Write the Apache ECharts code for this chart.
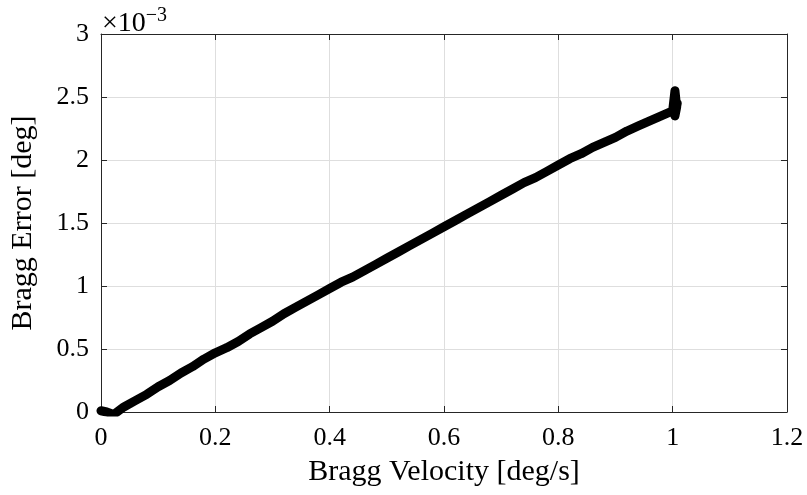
<!DOCTYPE html>
<html>
<head>
<meta charset="utf-8">
<script src="https://cdn.jsdelivr.net/npm/echarts@6/dist/echarts.min.js"></script>
<style>
  html, body { margin: 0; padding: 0; background: #fff; }
  #container { width: 807px; height: 495px; }
</style>
</head>
<body>
<div id="container"></div>
<script>
// velocity [deg/s] and error [x1e-3 deg]
var velocity = [0, 0.01, 0.022, 0.04, 0.06, 0.08, 0.1, 0.12, 0.14, 0.16, 0.18, 0.2,
  0.22, 0.24, 0.26, 0.28, 0.3, 0.32, 0.34, 0.36, 0.38, 0.4, 0.42, 0.44, 0.46, 0.48,
  0.5, 0.52, 0.54, 0.56, 0.58, 0.6, 0.62, 0.64, 0.66, 0.68, 0.7, 0.72, 0.74, 0.76,
  0.78, 0.8, 0.82, 0.84, 0.86, 0.88, 0.9, 0.92, 0.94, 0.96, 0.98, 1.0,
  1.004, 1.007, 1.004, 1.008, 1.003];
var braggError = [0.01, 0.0, -0.02, 0.04, 0.09, 0.14, 0.2, 0.25, 0.31, 0.36, 0.42, 0.47,
  0.51, 0.56, 0.62, 0.67, 0.72, 0.78, 0.83, 0.88, 0.93, 0.98, 1.03, 1.07, 1.12, 1.17,
  1.22, 1.27, 1.32, 1.37, 1.42, 1.47, 1.52, 1.57, 1.62, 1.67, 1.72, 1.77, 1.82, 1.86,
  1.91, 1.96, 2.01, 2.05, 2.1, 2.14, 2.18, 2.23, 2.27, 2.31, 2.35, 2.39,
  2.55, 2.42, 2.35, 2.45, 2.48];
var xTicks = [0, 0.2, 0.4, 0.6, 0.8, 1, 1.2];
var yTicks = [0, 0.5, 1, 1.5, 2, 2.5, 3];

var points = velocity.map(function (v, i) { return [v, braggError[i]]; });

var font = 'Liberation Serif';
var dom = document.getElementById('container');
var myChart = echarts.init(dom, null, { renderer: 'canvas' });

function baseAxis(extra) {
  return Object.assign({
    axisLine: { show: true, onZero: false, lineStyle: { color: '#262626', width: 1 } },
    axisTick: { show: true, inside: true, length: 6, lineStyle: { color: '#262626' } },
    splitLine: { show: false },
    axisLabel: { show: false }
  }, extra);
}

var option = {
  animation: false,
  backgroundColor: '#fff',
  title: {
    text: '×10{s|−3}',
    left: 97,
    top: 1,
    textStyle: {
      fontFamily: font, fontSize: 28, fontWeight: 'normal', color: '#000',
      rich: { s: { fontFamily: font, fontSize: 20, verticalAlign: 'top', padding: [0, 0, 16, 0], color: '#000' } }
    }
  },
  grid: { left: 97, right: 20, top: 34, bottom: 83, containLabel: false },
  xAxis: [
    baseAxis({
      type: 'value', min: xTicks[0], max: xTicks[xTicks.length - 1], interval: 0.2,
      position: 'bottom',
      name: 'Bragg Velocity [deg/s]', nameLocation: 'middle', nameGap: 45,
      nameTextStyle: { fontFamily: font, fontSize: 30, color: '#000' },
      splitLine: { show: true, lineStyle: { color: '#dedede', width: 1 } },
      axisLabel: {
        show: true, margin: 13, fontFamily: font, fontSize: 26, color: '#000',
        formatter: function (v) { return String(+v.toFixed(1)); }
      }
    }),
    baseAxis({ type: 'value', min: 0, max: 1.2, interval: 0.2, position: 'top' })
  ],
  yAxis: [
    baseAxis({
      type: 'value', min: yTicks[0], max: yTicks[yTicks.length - 1], interval: 0.5,
      position: 'left',
      name: 'Bragg Error [deg]', nameLocation: 'middle', nameGap: 63,
      nameTextStyle: { fontFamily: font, fontSize: 30, color: '#000' },
      splitLine: { show: true, lineStyle: { color: '#dedede', width: 1 } },
      axisLabel: {
        show: true, margin: 12, fontFamily: font, fontSize: 26, color: '#000',
        formatter: function (v) { return String(+v.toFixed(1)); }
      }
    }),
    baseAxis({ type: 'value', min: 0, max: 3, interval: 0.5, position: 'right' })
  ],
  series: [{
    type: 'line',
    data: points,
    showSymbol: false,
    lineStyle: { color: '#000', width: 9, cap: 'round', join: 'round' },
    z: 3
  }]
};

myChart.setOption(option);
window.addEventListener('resize', myChart.resize);
</script>
</body>
</html>
